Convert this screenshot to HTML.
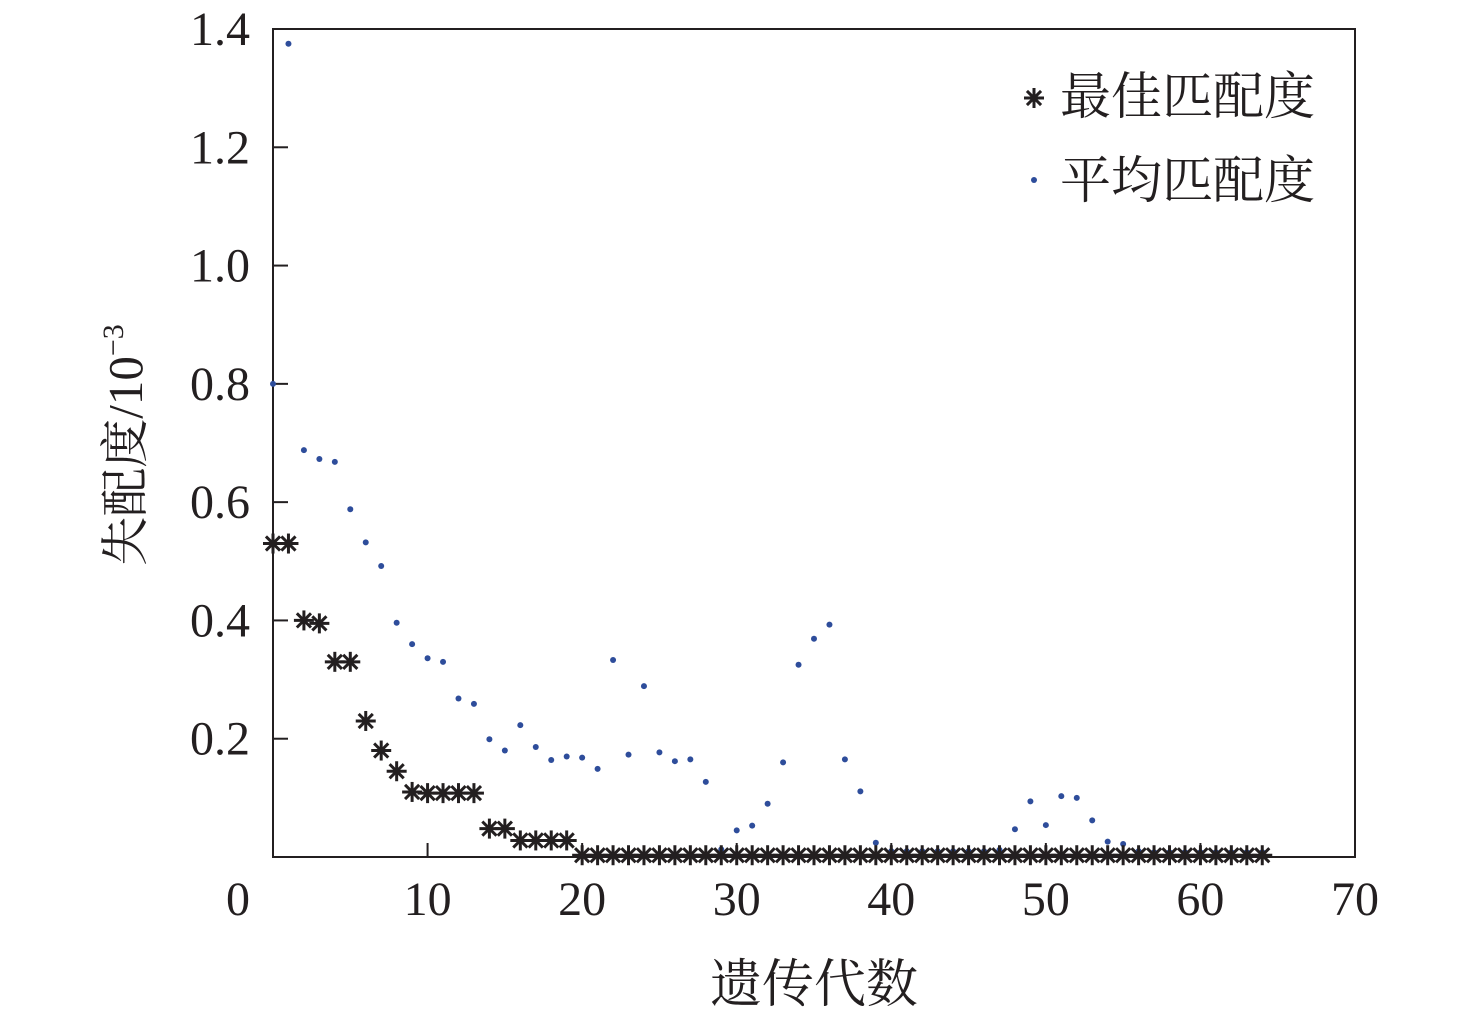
<!DOCTYPE html>
<html><head><meta charset="utf-8"><style>
html,body{margin:0;padding:0;background:#fff;}
svg text{font-family:"Liberation Serif","Noto Serif CJK SC",serif;fill:#231f20;}
</style></head><body>
<svg width="1476" height="1022" viewBox="0 0 1476 1022" xmlns="http://www.w3.org/2000/svg">
<g id="plot"></g>
</svg>
<script>
const xTicks=[0,10,20,30,40,50,60,70];
const yTicks=[0.2,0.4,0.6,0.8,1.0,1.2,1.4];
const yTickLabels=["0.2","0.4","0.6","0.8","1.0","1.2","1.4"];
const bestGen=[];for(let i=0;i<=64;i++)bestGen.push(i);
const bestVals=[0.53,0.53,0.40,0.395,0.33,0.33,0.23,0.18,0.145,0.11,0.108,0.108,0.108,0.108,0.048,0.048,0.028,0.028,0.028,0.028,
0.003,0.003,0.003,0.003,0.003,0.003,0.003,0.003,0.003,0.003,0.003,0.003,0.003,0.003,0.003,0.003,0.003,0.003,0.003,0.003,
0.003,0.003,0.003,0.003,0.003,0.003,0.003,0.003,0.003,0.003,0.003,0.003,0.003,0.003,0.003,0.003,0.003,0.003,0.003,0.003,
0.003,0.003,0.003,0.003,0.003];
const avgVals=[0.80,1.375,0.688,0.673,0.668,0.588,0.532,0.492,0.396,0.360,0.336,0.330,0.268,0.259,0.199,0.180,0.223,0.186,0.164,0.170,
0.168,0.149,0.333,0.173,0.289,0.177,0.162,0.165,0.127,0.013,0.045,0.053,0.090,0.160,0.325,0.369,0.393,0.165,0.111,0.024,
0.010,0.010,0.010,0.010,0.010,0.010,0.010,0.012,0.047,0.094,0.054,0.103,0.100,0.062,0.026,0.022,0.010,0.008,0.008,0.008,
0.008,0.008,0.008,0.008,0.008];
const X0=273,X1=1355,Y0=857,Y1=29;
const sx=v=>X0+(v-0)/70*(X1-X0);
const sy=v=>Y0-(v/1.4)*(Y0-Y1);
const NS="http://www.w3.org/2000/svg";
const g=document.getElementById('plot');
function mk(t,a,p){const e=document.createElementNS(NS,t);for(const k in a)e.setAttribute(k,a[k]);(p||g).appendChild(e);return e;}
const frame=mk('rect',{x:X0,y:Y1,width:X1-X0,height:Y0-Y1,fill:'none',stroke:'#231f20','stroke-width':2});


xTicks.forEach(t=>{
  if(t>0&&t<70){const l=mk('line',{x1:sx(t),x2:sx(t),y1:Y0,y2:Y0-14,stroke:'#231f20','stroke-width':2});
  
  }
  const tx=mk('text',{x:sx(t)+(t==0?-35:0),y:915,'font-size':48,'text-anchor':'middle'});tx.textContent=t;
  
  
});
yTicks.forEach((t,i)=>{
  const l=mk('line',{x1:X0,x2:X0+15,y1:sy(t),y2:sy(t),stroke:'#231f20','stroke-width':2});
  
  
  const tx=mk('text',{x:250,y:sy(t)+16,'font-size':48,'text-anchor':'end'});tx.textContent=yTickLabels[i];
  
  
});
function star(cx,cy,r,parent,name){
  const s=mk('g',{stroke:'#231f20','stroke-width':3},parent);
  
  
  for(let k=0;k<4;k++){const a=k*Math.PI/4;mk('line',{x1:cx-r*Math.cos(a),y1:cy-r*Math.sin(a),x2:cx+r*Math.cos(a),y2:cy+r*Math.sin(a)},s);}
}
avgVals.forEach((v,i)=>{
  const c=mk('circle',{cx:sx(bestGen[i]),cy:sy(v),r:3,fill:'#2e4d9b'});
  
  
});
bestVals.forEach((v,i)=>star(sx(bestGen[i]),sy(v),10,g,'best-point'));
star(1034,98,10,g,'legend-best-marker');
const lc=mk('circle',{cx:1034,cy:180,r:3,fill:'#2e4d9b'});


const l1=mk('text',{x:1060,y:114,'font-size':51});l1.textContent='最佳匹配度';


const l2=mk('text',{x:1060,y:198,'font-size':51});l2.textContent='平均匹配度';


const xt=mk('text',{x:814,y:1002,'font-size':52,'text-anchor':'middle'});xt.textContent='遗传代数';


const yt=mk('text',{transform:'translate(142,445) rotate(-90)','font-size':49,'text-anchor':'middle'});
yt.innerHTML='失配度/10<tspan font-size="30" dy="-19">−3</tspan>';


</script>
</body></html>
